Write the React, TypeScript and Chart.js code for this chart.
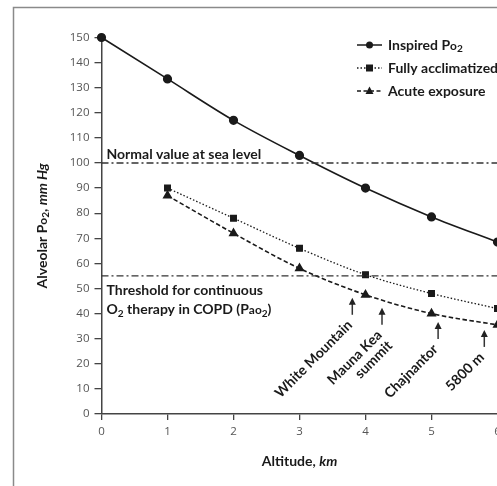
import React, { useEffect, useRef } from "react";
import { Chart, registerables } from "chart.js";
Chart.register(...registerables);

// ---- data ----
const altitudes = [0, 1, 2, 3, 4, 5, 6];
const inspiredPO2 = [150, 133.5, 117, 103, 90, 78.5, 68.5];
const acclimAltitudes = [1, 2, 3, 4, 5, 6];
const fullyAcclimatized = [90, 78, 66, 55.5, 48, 42];
const acuteExposure = [87, 72, 58, 47.5, 40, 35.5];
const normalSeaLevel = 100;
const copdThreshold = 55;
const refLineX = [0, 6.5];
const siteNames = [["White Mountain"], ["Mauna Kea", "summit"], ["Chajnantor"], ["5800 m"]];
const siteAltitudes = [3.8, 4.25, 5.1, 5.8];
const siteArrowTips = [46.3, 42.3, 36.7, 33.5];
const xTickValues = [0, 1, 2, 3, 4, 5, 6];
const yTickValues = [0, 10, 20, 30, 40, 50, 60, 70, 80, 90, 100, 110, 120, 130, 140, 150];
const legendLabels = ["Inspired Po2", "Fully acclimatized", "Acute exposure"];

const FONT = "Lato";
const INK = "#1a1a1a";
const FS = 14;

type Seg = { t: string; italic?: boolean; sub?: boolean; small?: boolean };

function drawRich(ctx: CanvasRenderingContext2D, segs: Seg[], x: number, y: number, size: number, align: "left" | "center" | "right") {
  const fontFor = (s: Seg) => {
    const sz = s.sub ? size * 0.72 : s.small ? size * 0.85 : size;
    return `${s.italic ? "italic " : ""}bold ${sz}px "${FONT}"`;
  };
  let total = 0;
  const widths: number[] = [];
  for (const s of segs) {
    ctx.font = fontFor(s);
    const w = ctx.measureText(s.t).width;
    widths.push(w);
    total += w;
  }
  let cx = align === "center" ? x - total / 2 : align === "right" ? x - total : x;
  ctx.textAlign = "left";
  ctx.textBaseline = "middle";
  segs.forEach((s, i) => {
    ctx.font = fontFor(s);
    ctx.fillText(s.t, cx, y + (s.sub ? size * 0.3 : s.small ? size * 0.05 : 0));
    cx += widths[i];
  });
}

const overlayPlugin = {
  id: "overlay",
  afterDraw(chart: any) {
    const ctx: CanvasRenderingContext2D = chart.ctx;
    const xs = chart.scales.x;
    const ys = chart.scales.y;
    const area = chart.chartArea;
    ctx.save();

    // frame
    ctx.strokeStyle = "#8a8a8a";
    ctx.lineWidth = 1.5;
    ctx.strokeRect(13.5, 7.5, 2000, 2000);

    ctx.fillStyle = INK;
    // axis titles
    drawRich(ctx, [{ t: "Altitude, " }, { t: "km", italic: true }], (xs.getPixelForValue(0) + xs.getPixelForValue(6)) / 2, 461, FS, "center");
    ctx.save();
    ctx.translate(42, (area.top + area.bottom) / 2);
    ctx.rotate(-Math.PI / 2);
    drawRich(ctx, [{ t: "Alveolar P" }, { t: "o", small: true }, { t: "2", sub: true }, { t: ", " }, { t: "mm Hg", italic: true }], 0, 0, FS, "center");
    ctx.restore();

    // reference line labels
    const x0 = xs.getPixelForValue(0);
    drawRich(ctx, [{ t: "Normal value at sea level" }], x0 + 5, ys.getPixelForValue(normalSeaLevel) - 9, FS, "left");
    const ty = ys.getPixelForValue(copdThreshold);
    drawRich(ctx, [{ t: "Threshold for continuous" }], x0 + 5, ty + 15, FS, "left");
    drawRich(ctx, [{ t: "O" }, { t: "2", sub: true }, { t: " therapy in COPD (P" }, { t: "ao", small: true }, { t: "2", sub: true }, { t: ")" }], x0 + 5, ty + 34, FS, "left");

    // site arrows + labels
    siteAltitudes.forEach((alt, i) => {
      const px = xs.getPixelForValue(alt);
      const tip = ys.getPixelForValue(siteArrowTips[i]);
      const bottom = tip + 17;
      ctx.strokeStyle = "#333";
      ctx.fillStyle = "#222";
      ctx.lineWidth = 1.5;
      ctx.beginPath();
      ctx.moveTo(px, tip + 5);
      ctx.lineTo(px, bottom);
      ctx.stroke();
      ctx.beginPath();
      ctx.moveTo(px, tip);
      ctx.lineTo(px - 3.5, tip + 7);
      ctx.lineTo(px + 3.5, tip + 7);
      ctx.closePath();
      ctx.fill();
      ctx.save();
      ctx.translate(px - 2.5, bottom + 8);
      ctx.rotate(-Math.PI / 4);
      ctx.fillStyle = INK;
      siteNames[i].forEach((line, j) => {
        drawRich(ctx, [{ t: line }], 0, j * 15, FS, "right");
      });
      ctx.restore();
    });

    // legend
    const rows = [45, 68, 91];
    const styles = [
      { dash: [] as number[], shape: "circle" },
      { dash: [1.5, 2], shape: "rect" },
      { dash: [4, 2.5], shape: "tri" },
    ];
    rows.forEach((ry, i) => {
      ctx.strokeStyle = INK;
      ctx.fillStyle = INK;
      ctx.lineWidth = 1.5;
      ctx.setLineDash(styles[i].dash);
      ctx.beginPath();
      ctx.moveTo(357, ry);
      ctx.lineTo(382, ry);
      ctx.stroke();
      ctx.setLineDash([]);
      const mx = 369.5;
      ctx.beginPath();
      if (styles[i].shape === "circle") {
        ctx.arc(mx, ry, 3.5, 0, Math.PI * 2);
      } else if (styles[i].shape === "rect") {
        ctx.rect(mx - 3.5, ry - 3.5, 7, 7);
      } else {
        ctx.moveTo(mx, ry - 4.5);
        ctx.lineTo(mx - 4, ry + 3);
        ctx.lineTo(mx + 4, ry + 3);
        ctx.closePath();
      }
      ctx.fill();
      if (i === 0) {
        drawRich(ctx, [{ t: "Inspired P" }, { t: "o", small: true }, { t: "2", sub: true }], 388, ry, FS, "left");
      } else {
        drawRich(ctx, [{ t: legendLabels[i] }], 388, ry, FS, "left");
      }
    });
    ctx.restore();
  },
};

export default function App() {
  const ref = useRef<HTMLCanvasElement>(null);
  useEffect(() => {
    if (!ref.current) return;
    const pts = (xsv: number[], ysv: number[]) => xsv.map((x, i) => ({ x, y: ysv[i] }));
    const chart = new Chart(ref.current, {
      type: "line",
      data: {
        datasets: [
          {
            label: "Normal value at sea level",
            data: pts(refLineX, refLineX.map(() => normalSeaLevel)),
            borderColor: "#333",
            borderWidth: 1.3,
            borderDash: [7, 3, 2, 3],
            pointRadius: 0,
            clip: false as any,
          },
          {
            label: "COPD threshold",
            data: pts(refLineX, refLineX.map(() => copdThreshold)),
            borderColor: "#333",
            borderWidth: 1.3,
            borderDash: [7, 3, 2, 3],
            pointRadius: 0,
            clip: false as any,
          },
          {
            label: legendLabels[0],
            data: pts(altitudes, inspiredPO2),
            borderColor: INK,
            backgroundColor: INK,
            borderWidth: 1.6,
            pointStyle: "circle",
            pointRadius: 3.8,
            cubicInterpolationMode: "monotone",
            clip: false as any,
          },
          {
            label: legendLabels[1],
            data: pts(acclimAltitudes, fullyAcclimatized),
            borderColor: INK,
            backgroundColor: INK,
            borderWidth: 1.3,
            borderDash: [1.5, 2],
            pointStyle: "rect",
            pointRadius: 4,
            cubicInterpolationMode: "monotone",
            clip: false as any,
          },
          {
            label: legendLabels[2],
            data: pts(acclimAltitudes, acuteExposure),
            borderColor: INK,
            backgroundColor: INK,
            borderWidth: 1.6,
            borderDash: [4.5, 2.5],
            pointStyle: "triangle",
            pointRadius: 4.2,
            cubicInterpolationMode: "monotone",
            clip: false as any,
          },
        ],
      },
      options: {
        animation: false,
        responsive: false,
        devicePixelRatio: 1,
        layout: { padding: { left: 0, top: 37.5, right: 9.5, bottom: 0 } },
        plugins: { legend: { display: false }, tooltip: { enabled: false } },
        scales: {
          x: {
            type: "linear",
            min: 0,
            max: 6.5,
            afterBuildTicks: (s: any) => {
              s.ticks = xTickValues.map((v) => ({ value: v }));
            },
            afterFit: (s: any) => {
              s.height = 72;
            },
            border: { display: true, color: "#444", width: 1.5 },
            grid: { drawOnChartArea: false, drawTicks: true, tickLength: 6, color: "#444", lineWidth: 1.3 },
            ticks: { color: "#555", font: { family: "Open Sans", size: 11.5 }, padding: 5, maxRotation: 0 },
          },
          y: {
            type: "linear",
            min: 0,
            max: 150,
            afterBuildTicks: (s: any) => {
              s.ticks = yTickValues.map((v) => ({ value: v }));
            },
            afterFit: (s: any) => {
              s.width = 101.5;
            },
            border: { display: true, color: "#444", width: 1.5 },
            grid: { drawOnChartArea: false, drawTicks: true, tickLength: 7, color: "#444", lineWidth: 1.3 },
            ticks: { color: "#555", font: { family: "Open Sans", size: 11.5 }, padding: 5 },
          },
        },
      },
      plugins: [overlayPlugin],
    } as any);
    return () => chart.destroy();
  }, []);
  return (
    <div style={{ position: "absolute", left: 0, top: 0, width: 497, height: 486, overflow: "hidden", background: "#fff" }}>
      <canvas ref={ref} width={540} height={486} style={{ display: "block", width: 540, height: 486 }} />
    </div>
  );
}
